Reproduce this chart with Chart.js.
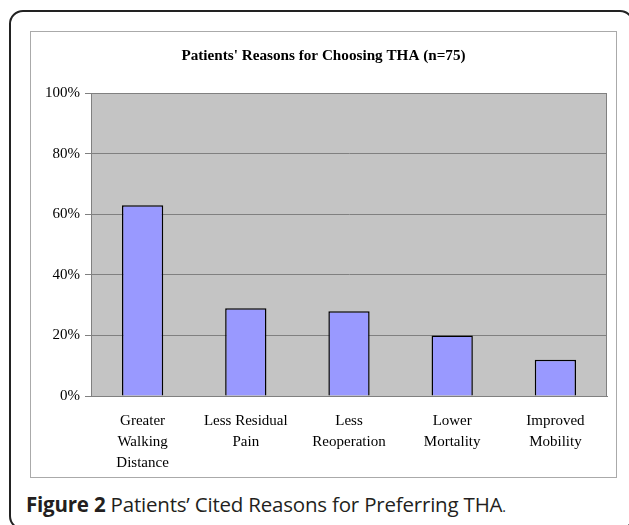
<!DOCTYPE html>
<html>
<head>
<meta charset="utf-8">
<script src="https://cdn.jsdelivr.net/npm/chart.js@4/dist/chart.umd.min.js"></script>
<style>
  html, body { margin: 0; padding: 0; background: #fff; }
  body { width: 629px; height: 525px; position: relative; overflow: hidden; }
  #outer { position: absolute; left: 9px; top: 10px; width: 625px; height: 520px;
           border: 2px solid #222; border-radius: 14px; box-sizing: border-box; }
  #box { position: absolute; left: 30px; top: 31px; width: 587px; height: 447px;
         border: 1px solid #aaa; box-sizing: border-box; background: #fff; }
  #wrap { position: absolute; left: 31px; top: 32px; width: 585px; height: 445px; }
  #caption { position: absolute; left: 26px; top: 491px; font-family: "Open Sans", sans-serif;
             font-size: 20.5px; line-height: 26px; color: #231f20; white-space: nowrap; font-weight: 500; letter-spacing: -0.2px; }
  #caption b { font-weight: 700; }
</style>
</head>
<body>
<div id="outer"></div>
<div id="box"></div>
<div id="wrap"><canvas id="c" width="585" height="445"></canvas></div>
<div id="caption"><b>Figure 2</b> Patients’ Cited Reasons for Preferring THA<span style="font-size:14px;font-weight:400">.</span></div>
<script>
const chartTitle = "Patients' Reasons for Choosing THA (n=75)";
const categories = [
  ["Greater", "Walking", "Distance"],
  ["Less Residual", "Pain"],
  ["Less", "Reoperation"],
  ["Lower", "Mortality"],
  ["Improved", "Mobility"]
];
const percentValues = [63, 29, 28, 20, 12];
const yTicks = [0, 20, 40, 60, 80, 100];

const plotBg = {
  id: 'plotBg',
  beforeDraw(chart) {
    const a = chart.chartArea, ctx = chart.ctx;
    ctx.save();
    ctx.fillStyle = '#c4c4c4';
    ctx.fillRect(a.left, a.top, a.right - a.left, a.bottom - a.top);
    ctx.restore();
  },
  afterDatasetsDraw(chart) {
    const a = chart.chartArea, ctx = chart.ctx;
    ctx.save();
    ctx.strokeStyle = '#808080';
    ctx.lineWidth = 1;
    ctx.strokeRect(Math.round(a.left) + 0.5, Math.round(a.top) + 0.5,
                   Math.round(a.right - a.left) - 1, Math.round(a.bottom - a.top));
    ctx.restore();
  }
};

new Chart(document.getElementById('c'), {
  type: 'bar',
  data: {
    labels: categories,
    datasets: [{
      data: percentValues,
      backgroundColor: '#9999ff',
      borderColor: '#000',
      borderWidth: 1.5,
      categoryPercentage: 0.8,
      barPercentage: 0.5
    }]
  },
  options: {
    responsive: false,
    animation: false,
    devicePixelRatio: 1,
    layout: { padding: { left: 9, right: 9, top: 0, bottom: 0 } },
    plugins: {
      legend: { display: false },
      tooltip: { enabled: false },
      title: {
        display: true,
        text: chartTitle,
        color: '#000',
        font: { family: 'Liberation Serif', size: 15.2, weight: 'bold', lineHeight: 1.2 },
        padding: { top: 15, bottom: 28 }
      }
    },
    scales: {
      x: {
        grid: { display: false, drawTicks: false },
        border: { color: '#808080', width: 1 },
        ticks: {
          color: '#000',
          maxRotation: 0,
          autoSkip: false,
          padding: 15,
          font: { family: 'Liberation Serif', size: 15, lineHeight: 1.4 }
        },
        afterFit(s) { s.height = 81; }
      },
      y: {
        min: 0, max: 100,
        afterBuildTicks(s) { s.ticks = yTicks.map(v => ({ value: v })); },
        grid: { color: '#808080', lineWidth: 1, tickLength: 6, drawTicks: true },
        border: { color: '#808080', width: 1 },
        ticks: {
          color: '#000',
          padding: 5,
          font: { family: 'Liberation Serif', size: 15 },
          callback: v => v + '%'
        },
        afterFit(s) { s.width = 51; }
      }
    }
  },
  plugins: [plotBg]
});
</script>
</body>
</html>
